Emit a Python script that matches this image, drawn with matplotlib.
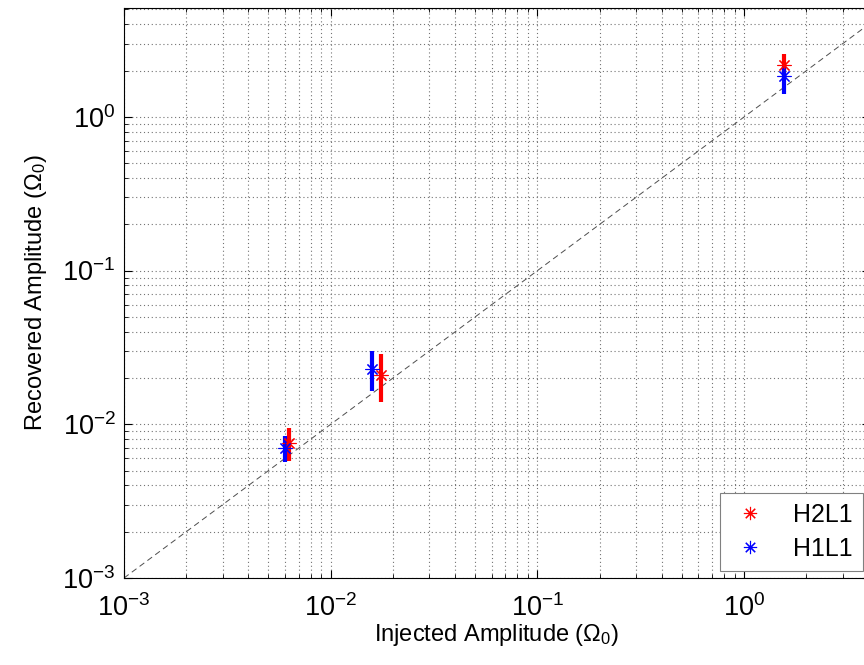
import numpy as np
import matplotlib
matplotlib.use("Agg")
import matplotlib.pyplot as plt

plt.rcParams['font.family'] = ['Liberation Sans', 'DejaVu Sans']
plt.rcParams['mathtext.fontset'] = 'custom'
plt.rcParams['mathtext.rm'] = 'Liberation Sans'
plt.rcParams['mathtext.it'] = 'Liberation Sans'
plt.rcParams['axes.unicode_minus'] = False

# injected / recovered amplitudes with error bar limits
h2l1_inj = [0.0063, 0.0175, 1.55]
h2l1_rec = [0.0076, 0.021, 2.18]
h2l1_lo = [0.00575, 0.0139, 1.80]
h2l1_hi = [0.0094, 0.0285, 2.57]

h1l1_inj = [0.0060, 0.0158, 1.55]
h1l1_rec = [0.0070, 0.0228, 1.85]
h1l1_lo = [0.00566, 0.0164, 1.41]
h1l1_hi = [0.0084, 0.0299, 2.15]

x_lim = [1e-3, 4.06]
y_lim = [1e-3, 5.11]
diag = [1e-3, 10.0]

fig = plt.figure(figsize=(8.64, 6.65), dpi=100)
ax = fig.add_axes([124 / 864, 87 / 665, 746 / 864, 570 / 665])
ax.set_xscale('log')
ax.set_yscale('log')

asterisk = (8, 2, 0)


def add_series(inj, rec, lo, hi, color, label):
    rec = np.array(rec)
    yerr = [rec - np.array(lo), np.array(hi) - rec]
    ax.errorbar(inj, rec, yerr=yerr, fmt='none', ecolor=color,
                elinewidth=3, capsize=0, zorder=3)
    ax.plot(inj, rec, linestyle='none', marker=asterisk, markersize=10,
            markeredgewidth=0.8, color=color, label=label, zorder=4)


add_series(h2l1_inj, h2l1_rec, h2l1_lo, h2l1_hi, '#ff0000', 'H2L1')
add_series(h1l1_inj, h1l1_rec, h1l1_lo, h1l1_hi, '#0000ff', 'H1L1')

ax.plot(diag, diag, color='0.3', linestyle=(0, (6, 4)), linewidth=0.7, zorder=2)

ax.set_xlim(x_lim)
ax.set_ylim(y_lim)
ax.grid(True, which='both', linestyle=(0, (1, 2.5)), color='0.45', linewidth=0.8)
ax.set_axisbelow(True)
ax.tick_params(which='both', direction='in', top=True, right=True)
ax.tick_params(which='major', length=6, labelsize=19.5)
ax.tick_params(axis='x', which='major', pad=12)
ax.tick_params(axis='y', which='major', pad=6)
ax.tick_params(which='minor', length=3)
for s in ax.spines.values():
    s.set_linewidth(0.8)

ax.set_xlabel(r'Injected Amplitude ($\mathregular{\Omega_0}$)', fontsize=17, labelpad=0)
ax.set_ylabel(r'Recovered Amplitude ($\mathregular{\Omega_0}$)', fontsize=17, labelpad=10)

leg = ax.legend(loc='lower right', fontsize=18, fancybox=False, framealpha=1,
                edgecolor='0.5', handletextpad=0.9, borderaxespad=0.3,
                handlelength=1.6, markerscale=0.95, labelspacing=0.4)
leg.get_frame().set_linewidth(0.8)

fig.savefig('out.png', dpi=100)
